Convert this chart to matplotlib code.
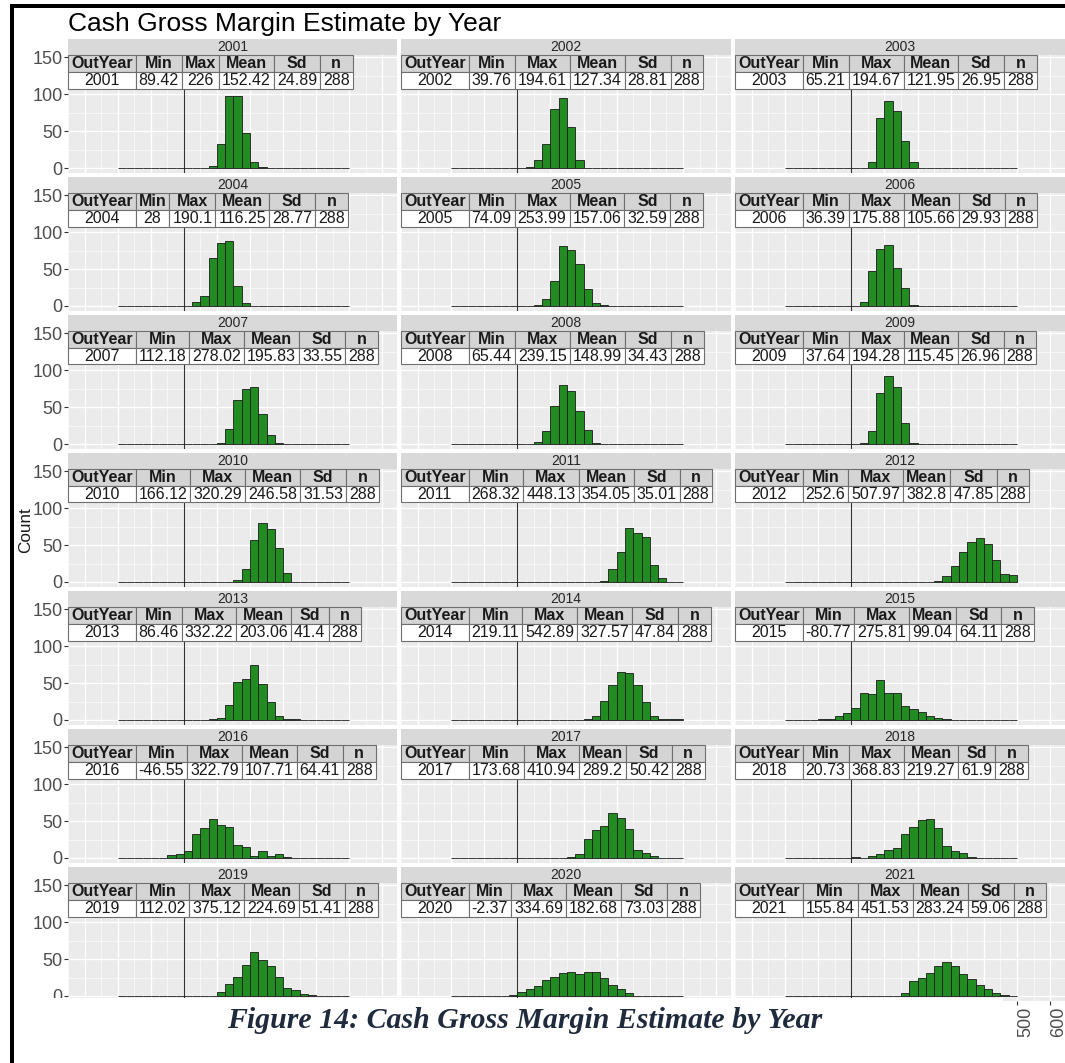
import numpy as np
import matplotlib
matplotlib.use("Agg")
import matplotlib.pyplot as plt
from matplotlib.patches import Rectangle
from matplotlib.ticker import MultipleLocator, FuncFormatter

plt.rcParams['font.family'] = ['Liberation Sans', 'DejaVu Sans']

# сводная статистика по годам (таблица над каждой гистограммой)
years = list(range(2001, 2022))
mins = [89.42, 39.76, 65.21, 28, 74.09, 36.39, 112.18, 65.44, 37.64, 166.12, 268.32,
        252.6, 86.46, 219.11, -80.77, -46.55, 173.68, 20.73, 112.02, -2.37, 155.84]
maxs = [226, 194.61, 194.67, 190.1, 253.99, 175.88, 278.02, 239.15, 194.28, 320.29, 448.13,
        507.97, 332.22, 542.89, 275.81, 322.79, 410.94, 368.83, 375.12, 334.69, 451.53]
means = [152.42, 127.34, 121.95, 116.25, 157.06, 105.66, 195.83, 148.99, 115.45, 246.58, 354.05,
         382.8, 203.06, 327.57, 99.04, 107.71, 289.2, 219.27, 224.69, 182.68, 283.24]
sds = [24.89, 28.81, 26.95, 28.77, 32.59, 29.93, 33.55, 34.43, 26.96, 31.53, 35.01,
       47.85, 41.4, 47.84, 64.11, 64.41, 50.42, 61.9, 51.41, 73.03, 59.06]
ns = [288] * 21

# гистограммы: левая граница первого непустого бина и частоты
bin_width = 25
bin_edges = np.arange(-200, 525, bin_width)
first_edge = [75, 25, 50, 25, 50, 25, 100, 50, 25, 150, 250,
              250, 75, 200, -100, -50, 150, 0, 100, -25, 150]
counts = [
    [3, 33, 98, 97, 47, 8, 2],
    [2, 11, 33, 80, 95, 56, 11],
    [8, 67, 91, 77, 37, 8],
    [5, 14, 65, 85, 88, 27, 4],
    [2, 9, 34, 81, 76, 57, 23, 4, 2],
    [5, 47, 77, 82, 52, 24, 1],
    [2, 20, 59, 75, 77, 41, 12, 2],
    [3, 17, 51, 80, 71, 45, 19, 2],
    [2, 18, 69, 92, 77, 28, 2],
    [3, 18, 57, 80, 72, 46, 12],
    [2, 17, 41, 73, 66, 61, 23, 5],
    [2, 8, 22, 41, 54, 59, 51, 30, 11, 10],
    [1, 3, 20, 52, 56, 74, 48, 25, 6, 2, 1],
    [1, 5, 26, 47, 65, 63, 47, 25, 5, 2, 1, 1],
    [1, 2, 5, 9, 16, 37, 35, 54, 37, 37, 19, 15, 11, 5, 3, 2],
    [4, 5, 9, 33, 41, 53, 45, 42, 18, 15, 3, 9, 3, 6, 2],
    [1, 5, 26, 38, 43, 61, 54, 39, 11, 7, 3],
    [1, 0, 3, 6, 11, 14, 32, 42, 52, 53, 40, 16, 9, 7, 2],
    [6, 16, 26, 42, 60, 48, 40, 26, 11, 8, 3, 2],
    [1, 5, 10, 14, 22, 26, 31, 32, 30, 32, 32, 24, 15, 10, 4],
    [4, 20, 24, 31, 41, 46, 40, 30, 23, 15, 9, 4, 1],
]

header = ["OutYear", "Min", "Max", "Mean", "Sd", "n"]

# подписи оси x, которые не закрыты подписью рисунка
x_labels_shown = [500, 600]

# геометрия в пикселях
W, H = 1065, 1063
col_left = [68, 401, 735]
col_w = [329, 330, 330]
row_pitch = 138
strip_top0, strip_h = 39, 15.6
panel_top0, panel_h = 54.6, 118.8


def frect(x, y, w, h):
    return [x / W, 1 - (y + h) / H, w / W, h / H]


def fmt(v):
    return "{:g}".format(v)


fig = plt.figure(figsize=(W / 100, H / 100), dpi=100)
renderer = fig.canvas.get_renderer()
_cache = {}


def text_width(s, weight):
    key = (s, weight)
    if key not in _cache:
        t = fig.text(0, 0, s, fontsize=11.5, fontweight=weight)
        _cache[key] = t.get_window_extent(renderer).width
        t.remove()
    return _cache[key]


def add_rect(x, y, w, h, **kw):
    r = Rectangle((x / W, 1 - (y + h) / H), w / W, h / H, transform=fig.transFigure, **kw)
    fig.add_artist(r)
    return r


for k, year in enumerate(years):
    row, col = divmod(k, 3)
    x0 = col_left[col]
    pw = col_w[col]
    ptop = panel_top0 + row * row_pitch
    stop = strip_top0 + row * row_pitch

    ax = fig.add_axes(frect(x0, ptop, pw, panel_h))
    ax.set_facecolor('#EBEBEB')
    ax.set_xlim(-351, 645)
    ax.set_ylim(-7.3, 153.3)
    ax.xaxis.set_major_locator(MultipleLocator(100))
    ax.xaxis.set_minor_locator(MultipleLocator(50))
    ax.yaxis.set_major_locator(MultipleLocator(50))
    ax.yaxis.set_minor_locator(MultipleLocator(25))
    ax.set_axisbelow(True)
    ax.grid(which='major', color='white', lw=1.0)
    ax.grid(which='minor', color='white', lw=0.5, alpha=0.8)
    for s in ax.spines.values():
        s.set_visible(False)
    ax.tick_params(which='minor', length=0)

    full = np.zeros(len(bin_edges) - 1)
    i0 = int((first_edge[k] - bin_edges[0]) // bin_width)
    full[i0:i0 + len(counts[k])] = counts[k]

    ax.axvline(0, color='#333333', lw=0.8, zorder=1.5)
    ax.bar(bin_edges[:-1], full, width=bin_width, align='edge',
           color='#228B22', edgecolor='#1a1a1a', linewidth=0.6, zorder=2)

    if col == 0:
        ax.tick_params(axis='y', length=3, width=0.8, color='#333333', pad=1,
                       labelsize=13, labelcolor='#4D4D4D')
    else:
        ax.tick_params(axis='y', length=0, labelleft=False)
    if row == 6 and col == 2:
        ax.xaxis.set_major_formatter(
            FuncFormatter(lambda v, p: fmt(v) if round(v) in x_labels_shown else ''))
        ax.tick_params(axis='x', length=3, width=0.8, color='#333333', pad=1,
                       labelsize=13, labelcolor='#4D4D4D')
        plt.setp(ax.get_xticklabels(), rotation=90, ha='left', va='top')
    else:
        ax.tick_params(axis='x', length=0, labelbottom=False)

    # полоса с годом
    add_rect(x0, stop, pw, strip_h, facecolor='#D9D9D9', edgecolor='none', zorder=1)
    fig.text((x0 + pw / 2) / W, 1 - (stop + strip_h / 2 + 0.5) / H, str(year),
             ha='center', va='center', fontsize=10, color='#262626', zorder=2)

    # таблица статистики
    values = [str(year), fmt(mins[k]), fmt(maxs[k]), fmt(means[k]), fmt(sds[k]), str(ns[k])]
    tx = x0
    ty = ptop + 0.4
    for h_txt, v_txt in zip(header, values):
        cw = max(text_width(h_txt, 'bold'), text_width(v_txt, 'normal')) + 6
        add_rect(tx, ty, cw, 17, facecolor='#D4D4D4', edgecolor='#6E6E6E', lw=0.8, zorder=3)
        add_rect(tx, ty + 17, cw, 16.5, facecolor='white', edgecolor='#6E6E6E', lw=0.8, zorder=3)
        fig.text((tx + cw / 2) / W, 1 - (ty + 9) / H, h_txt, ha='center', va='center',
                 fontsize=11.5, fontweight='bold', color='#1a1a1a', zorder=4)
        fig.text((tx + cw / 2) / W, 1 - (ty + 25.5) / H, v_txt, ha='center', va='center',
                 fontsize=11.5, color='#1a1a1a', zorder=4)
        tx += cw

fig.text(68 / W, 1 - 31 / H, "Cash Gross Margin Estimate by Year", fontsize=19,
         va='baseline', ha='left', color='black')
fig.text(26 / W, 1 - 530 / H, "Count", rotation=90, fontsize=12.3,
         ha='center', va='center', color='#1a1a1a')

# подпись рисунка поверх нижней части графика
add_rect(14, 998, 989, 70, facecolor='white', edgecolor='none', zorder=5)
fig.text(525 / W, 1 - 1028 / H, "Figure 14: Cash Gross Margin Estimate by Year",
         family='Liberation Serif', fontweight='bold', fontstyle='italic', fontsize=21.5,
         color='#1F2B3D', ha='center', va='baseline', zorder=6)

# рамка документа
add_rect(10, 4, 4, H - 4, facecolor='black', edgecolor='none', zorder=10)
add_rect(10, 4, W - 10, 3.5, facecolor='black', edgecolor='none', zorder=10)

fig.savefig("out.png", dpi=100)
